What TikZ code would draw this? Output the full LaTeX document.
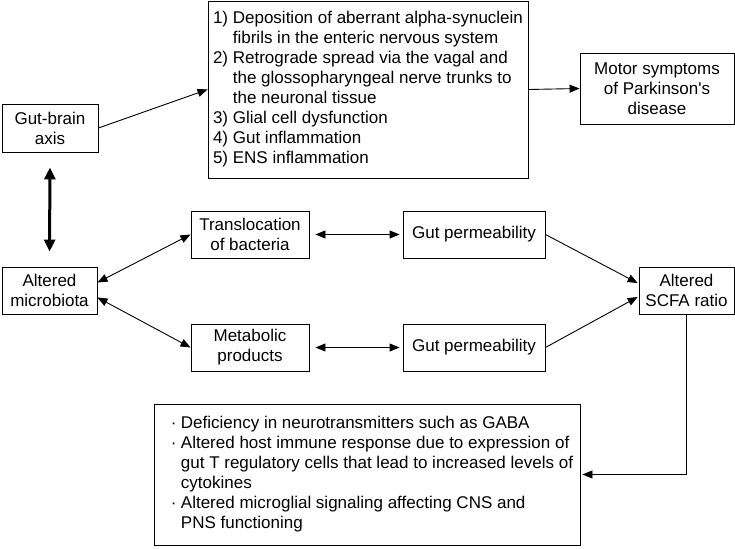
\documentclass[tikz,border=0pt]{standalone}
\usepackage{fontspec}
\setmainfont{Liberation Sans}
\usetikzlibrary{arrows.meta}
\tikzset{
  box/.style={draw, line width=0.9pt, inner sep=0pt, align=center,
    font=\fontsize{17}{20}\selectfont},
  arr/.style={line width=0.9pt, -{Triangle[length=10pt,width=8pt]}},
  twoarr/.style={line width=0.9pt,
    {Triangle[length=10pt,width=8pt]}-{Triangle[length=10pt,width=8pt]}},
  bigarr/.style={line width=3pt,
    {Triangle[length=12pt,width=11pt]}-{Triangle[length=12pt,width=11pt]}}
}
\begin{document}
\begin{tikzpicture}[x=1pt, y=-1pt]
  \useasboundingbox (0,0) rectangle (735,548);
  % top row
  \node[box, minimum width=96, minimum height=48] (gba) at (50,128) {Gut-brain\\axis};
  \node[box, align=left, minimum width=320, minimum height=177] (top) at (368,89.5)
    {1) Deposition of aberrant alpha-synuclein\\
     \phantom{1) }fibrils in the enteric nervous system\\
     2) Retrograde spread via the vagal and\\
     \phantom{2) }the glossopharyngeal nerve trunks to\\
     \phantom{2) }the neuronal tissue\\
     3) Glial cell dysfunction\\
     4) Gut inflammation\\
     5) ENS inflammation};
  \node[box, minimum width=154, minimum height=71] (motor) at (657,88.5)
    {Motor symptoms\\of Parkinson\textquotesingle s\\disease};
  % middle rows
  \node[box, minimum width=95, minimum height=47] (mic) at (49.5,290.5) {Altered\\microbiota};
  \node[box, minimum width=118, minimum height=47] (trans) at (250,234.5) {Translocation\\of bacteria};
  \node[box, minimum width=118, minimum height=47] (meta) at (250,347.5) {Metabolic\\products};
  \node[box, minimum width=142, minimum height=47] (gp1) at (474,234.5) {Gut permeability};
  \node[box, minimum width=142, minimum height=47] (gp2) at (474,347.5) {Gut permeability};
  \node[box, minimum width=95, minimum height=47] (scfa) at (686.5,290.5) {Altered\\SCFA ratio};
  % effects
  \node[box, align=left, minimum width=426, minimum height=141] (fx) at (367,474.5)
    {\hspace*{10pt}\makebox[10pt][l]{·}Deficiency in neurotransmitters such as GABA\\
     \hspace*{10pt}\makebox[10pt][l]{·}Altered host immune response due to expression of\\
     \hspace*{20pt}gut T regulatory cells that lead to increased levels of\\
     \hspace*{20pt}cytokines\\
     \hspace*{10pt}\makebox[10pt][l]{·}Altered microglial signaling affecting CNS and\\
     \hspace*{20pt}PNS functioning};
  % arrows
  \draw[arr] (gba.east) -- (top.west);
  \draw[arr] (top.east) -- (motor.west);
  \draw[bigarr, shorten <=15pt, shorten >=15pt] (gba.south) -- (mic.north);
  \draw[twoarr] ([yshift=8pt]mic.east) -- (trans.west);
  \draw[twoarr] ([yshift=-7pt]mic.east) -- (meta.west);
  \draw[twoarr, shorten <=6pt, shorten >=3pt] (trans.east) -- (gp1.west);
  \draw[twoarr, shorten <=6pt, shorten >=3pt] (meta.east) -- (gp2.west);
  \draw[arr, shorten >=1pt] (gp1.east) -- ([yshift=7pt]scfa.west);
  \draw[arr, shorten >=1pt] (gp2.east) -- ([yshift=-6pt]scfa.west);
  \draw[arr, shorten >=2pt] (scfa.south) |- (fx.east);
\end{tikzpicture}
\end{document}
